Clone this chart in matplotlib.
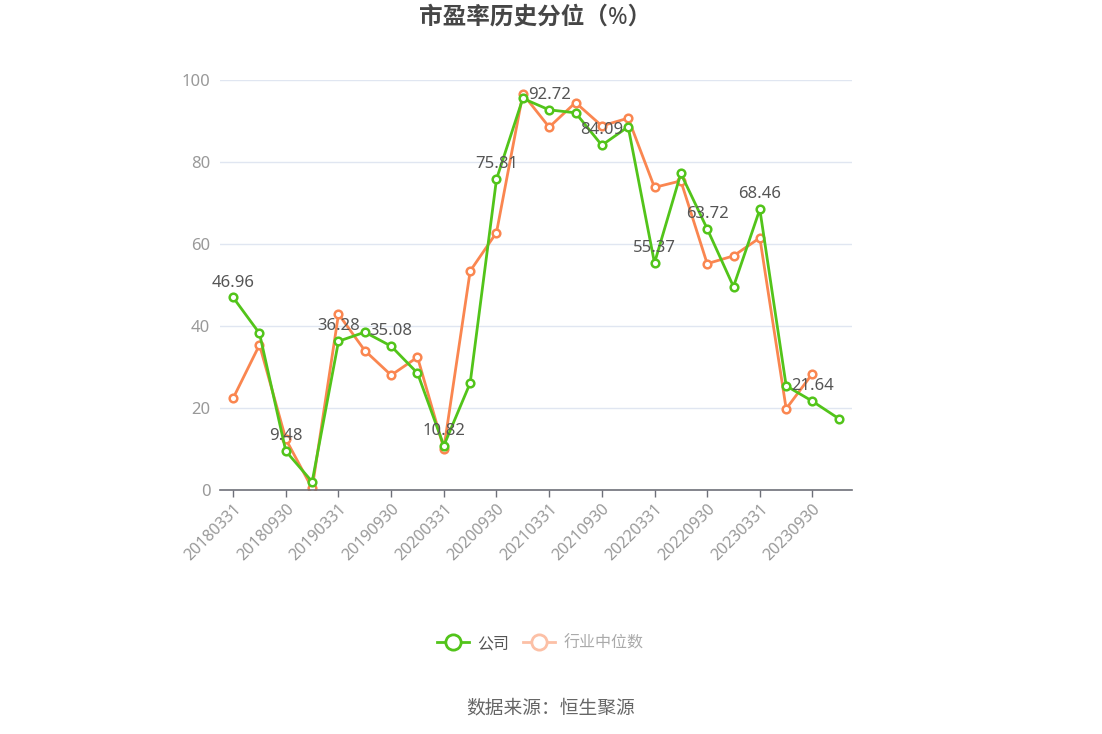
#!/usr/bin/env python3
# PE-ratio historical percentile chart: company vs industry median.

import numpy as np
import matplotlib
matplotlib.use('Agg')  # For headless use.
import matplotlib.pyplot as plt
from matplotlib.lines import Line2D

plt.rcParams['font.family'] = ['Noto Sans', 'Noto Sans CJK SC', 'DejaVu Sans']

# DATA
dates = ['20180331', '20180630', '20180930', '20181231',
         '20190331', '20190630', '20190930', '20191231',
         '20200331', '20200630', '20200930', '20201231',
         '20210331', '20210630', '20210930', '20211231',
         '20220331', '20220630', '20220930', '20221231',
         '20230331', '20230630', '20230930', '20231231']
company = [46.96, 38.2, 9.48, 2.0, 36.28, 38.5, 35.08, 28.5,
           10.82, 26.1, 75.81, 95.5, 92.72, 92.0, 84.09, 88.6,
           55.37, 77.2, 63.72, 49.6, 68.46, 25.4, 21.64, 17.4]
industry = [22.4, 35.4, 12.4, 0.4, 42.9, 34.0, 28.0, 32.4,
            10.1, 53.4, 62.8, 96.6, 88.5, 94.5, 88.8, 90.7,
            73.8, 75.4, 55.2, 57.1, 61.5, 19.8, 28.4]
labelled = [0, 2, 4, 6, 8, 10, 12, 14, 16, 18, 20, 22]

green = '#52c41a'
orange = '#fa8650'

# PLOTTING
fig = plt.figure(figsize=(11.02, 7.34), dpi=100)
ax = fig.add_axes([220 / 1102, 1 - 490 / 734, 632 / 1102, 410 / 734])

x = np.arange(len(dates))
ax.plot(x, company, color=green, lw=2, marker='o', ms=5.5, mfc='white',
        mew=1.8, zorder=3)
ax.plot(np.arange(len(industry)), industry, color=orange, lw=2, marker='o',
        ms=5.5, mfc='white', mew=1.8, zorder=2)

for i in labelled:
    ax.annotate('{:.2f}'.format(company[i]), (x[i], company[i]),
                xytext=(0, 5), textcoords='offset points', ha='center',
                va='bottom', fontsize=12, color='#555555', zorder=4)

ax.set_xlim(-0.5, len(dates) - 0.5)
ax.set_ylim(0, 100)
ax.set_yticks([0, 20, 40, 60, 80, 100])
ax.set_xticks(x[::2])
ax.set_xticklabels(dates[::2], rotation=45, ha='right', va='top',
                   rotation_mode='anchor')
ax.tick_params(axis='x', colors='#6e7079', length=5, width=1,
               labelcolor='#999999', labelsize=11.5, pad=3)
ax.tick_params(axis='y', length=0, labelcolor='#999999', labelsize=12,
               pad=7)
ax.grid(axis='y', color='#e0e6f1', lw=1)
ax.set_axisbelow(True)
for side in ['top', 'right', 'left']:
    ax.spines[side].set_visible(False)
ax.spines['bottom'].set_color('#6e7079')
ax.spines['bottom'].set_linewidth(1.2)

fig.text(535 / 1102, 1 - 18 / 734, '市盈率历史分位（%）', ha='center',
         va='center', fontsize=17, fontweight='bold', color='#464646')

handles = [
    Line2D([], [], color=green, lw=2, marker='o', ms=11, mfc='white', mew=2),
    Line2D([], [], color='#fcc0a6', lw=2, marker='o', ms=11, mfc='white',
           mew=2),
]
leg = fig.legend(handles, ['公司', '行业中位数'], loc='center',
                 bbox_to_anchor=(540 / 1102, 1 - 644 / 734), ncol=2,
                 frameon=False, fontsize=11.5, handlelength=2.0,
                 columnspacing=0.9, handletextpad=0.5)
leg.get_texts()[0].set_color('#555555')
leg.get_texts()[1].set_color('#aaaaaa')

fig.text(551 / 1102, 1 - 708 / 734, '数据来源：恒生聚源', ha='center',
         va='center', fontsize=13.5, color='#666666')

plt.savefig('out.png', dpi=100)
plt.close()
